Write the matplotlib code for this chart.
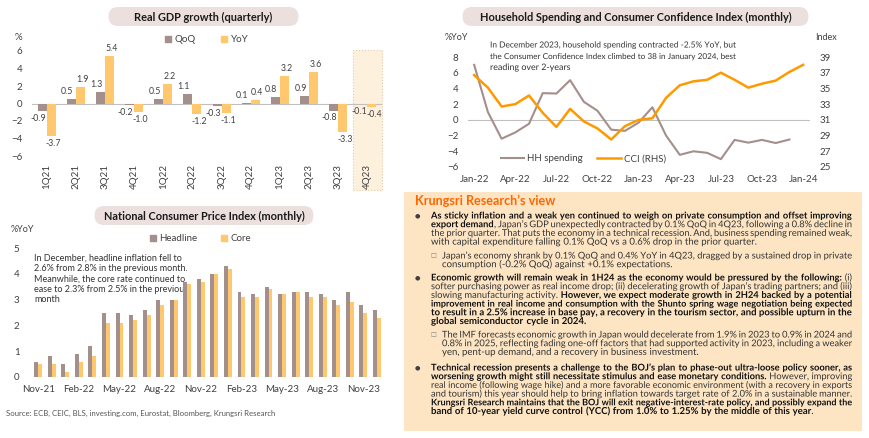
import matplotlib
matplotlib.use('Agg')
import matplotlib.pyplot as plt
import matplotlib.patheffects as pe
from matplotlib.patches import FancyBboxPatch, Rectangle, Patch
from matplotlib.lines import Line2D
import numpy as np

plt.rcParams['font.family'] = ['Lato', 'DejaVu Sans']

W, H = 870, 438

# ---- Real GDP growth (quarterly) ----
gdp_quarters = ['1Q21', '2Q21', '3Q21', '4Q21', '1Q22', '2Q22', '3Q22', '4Q22',
                '1Q23', '2Q23', '3Q23', '4Q23']
gdp_qoq = [-0.9, 0.5, 1.3, -0.2, 0.5, 1.1, -0.3, 0.1, 0.8, 0.9, -0.8, -0.1]
gdp_yoy = [-3.7, 1.9, 5.4, -1.0, 2.2, -1.2, -1.1, 0.4, 3.2, 3.6, -3.3, -0.4]

# ---- Household spending (Jan-22..Dec-23) and CCI (Jan-22..Jan-24) ----
hh_spending = [7.0, 1.0, -2.4, -1.6, -0.5, 3.4, 3.35, 5.05, 2.3, 1.15, -1.25, -1.4,
               -0.35, 1.6, -2.0, -4.45, -4.0, -4.2, -5.0, -2.55, -2.9, -2.55, -2.95, -2.5]
cci = [36.7, 35.1, 32.7, 33.0, 34.1, 31.9, 30.1, 32.4, 30.8, 29.9, 28.5, 30.2,
       31.0, 31.2, 33.8, 35.4, 35.9, 36.1, 37.0, 36.1, 35.1, 35.6, 36.0, 37.1, 38.0]
hh_tick_labels = ['Jan-22', 'Apr-22', 'Jul-22', 'Oct-22', 'Jan-23', 'Apr-23',
                  'Jul-23', 'Oct-23', 'Jan-24']

# ---- National CPI (Nov-21..Dec-23) ----
cpi_headline = [0.6, 0.8, 0.5, 0.9, 1.2, 2.5, 2.5, 2.4, 2.6, 3.0, 3.0, 3.7, 3.8,
                4.0, 4.3, 3.3, 3.2, 3.5, 3.2, 3.3, 3.3, 3.2, 3.0, 3.3, 2.8, 2.6]
cpi_core = [0.5, 0.5, 0.2, 0.6, 0.8, 2.1, 2.1, 2.2, 2.4, 2.8, 3.0, 3.6, 3.7,
            4.0, 4.2, 3.1, 3.1, 3.4, 3.2, 3.3, 3.1, 3.1, 2.8, 2.9, 2.5, 2.3]
cpi_tick_labels = ['Nov-21', 'Feb-22', 'May-22', 'Aug-22', 'Nov-22', 'Feb-23',
                   'May-23', 'Aug-23', 'Nov-23']

C_BROWN = '#a38f8b'
C_YEL = '#ffc76e'
C_ORANGE = '#ff9900'
C_PILL = '#ece0de'
C_TXT = '#404040'
C_GRID = '#c0c0c0'

fig = plt.figure(figsize=(8.7, 4.38), dpi=100)
bg = fig.add_axes([0, 0, 1, 1], zorder=0)
bg.set_xlim(0, W)
bg.set_ylim(H, 0)
bg.axis('off')
renderer = fig.canvas.get_renderer()
PE = [pe.Normal()]  # draw text as paths, so words share one baseline


def px_axes(x0, y0, x1, y1):
    ax = fig.add_axes([x0 / W, 1 - y1 / H, (x1 - x0) / W, (y1 - y0) / H], zorder=2)
    ax.patch.set_alpha(0)
    for s in ax.spines.values():
        s.set_visible(False)
    ax.tick_params(length=0, labelsize=7, labelcolor=C_TXT)
    return ax


def pill(x0, y0, x1, y1, title):
    r = (y1 - y0) / 2
    bg.add_patch(FancyBboxPatch((x0 + r, y0), x1 - x0 - 2 * r, y1 - y0,
                                boxstyle=f'round,pad=0,rounding_size={r}',
                                fc=C_PILL, ec='none'))
    bg.text((x0 + x1) / 2, (y0 + y1) / 2 + 0.5, title, ha='center', va='center',
            fontsize=7.9, fontweight='bold', color='#1a1a1a')


def text_w(s, size, bold):
    t = bg.text(0, 0, s, fontsize=size, fontweight='bold' if bold else 'normal')
    w = t.get_window_extent(renderer).width
    t.remove()
    return w


def draw_line(segs, x0, x1, y, size=6.0, justify=True, color='#333333',
              bold_color='#111111'):
    # split into words, each word may hold bold and normal pieces
    words = [[]]
    for txt, bold in segs:
        parts = txt.split(' ')
        for k, p in enumerate(parts):
            if k > 0:
                words.append([])
            if p:
                words[-1].append((p, bold))
    words = [w for w in words if w]
    while True:
        widths = [[text_w(p, size, b) for p, b in w] for w in words]
        tot = sum(sum(w) for w in widths)
        sp = text_w('a a', size, False) - text_w('aa', size, False)
        if tot + 0.8 * sp * (len(words) - 1) <= (x1 - x0) or size < 4:
            break
        size *= 0.97
    if justify and len(words) > 1:
        gap = ((x1 - x0) - tot) / (len(words) - 1)
    else:
        gap = sp
    x = x0
    for w, ws in zip(words, widths):
        for (p, b), pw in zip(w, ws):
            bg.text(x, y + 2.5, p, fontsize=size, va='baseline', ha='left',
                    fontweight='bold' if b else 'normal',
                    color=bold_color if b else color, path_effects=PE)
            x += pw
        x += gap


# =============== GDP chart ===============
pill(99, 7, 308, 26, 'Real GDP growth (quarterly)')
ax1 = px_axes(32, 51, 382, 156)
xg = np.arange(len(gdp_quarters))
bw = 0.31
ax1.axvspan(10.5, 11.5, ymin=-0.325, ymax=1.01, clip_on=False,
            fc='#fdf1de', ec='#e6c9a3', ls=':', lw=0.8, zorder=0)
ax1.bar(xg - bw / 2, gdp_qoq, bw, color=C_BROWN, zorder=2, label='QoQ')
ax1.bar(xg + bw / 2, gdp_yoy, bw, color=C_YEL, zorder=2, label='YoY')
ax1.axhline(0, color=C_GRID, lw=0.8, zorder=1)
for xs, vals in ((xg - bw / 2 - 0.14, gdp_qoq), (xg + bw / 2 + 0.07, gdp_yoy)):
    for xi, v in zip(xs, vals):
        ax1.annotate(f'{v:.1f}', (xi, v), xytext=(0, 2 if v >= 0 else -2),
                     textcoords='offset points', ha='center',
                     va='bottom' if v >= 0 else 'top', fontsize=6.3,
                     color=C_TXT, annotation_clip=False)
ax1.set_xlim(-0.5, 11.5)
ax1.set_ylim(-6, 6)
ax1.set_yticks([-6, -4, -2, 0, 2, 4, 6])
ax1.set_xticks(xg)
ax1.set_xticklabels(gdp_quarters, rotation=90)
ax1.tick_params(axis='y', pad=7)
ax1.tick_params(axis='x', pad=6)
bg.text(18, 37, '%', fontsize=7, color=C_TXT, ha='center', va='center')
ax1.legend(handles=[Patch(color=C_BROWN, label='QoQ'), Patch(color=C_YEL, label='YoY')],
           ncol=2, loc='center', bbox_to_anchor=(0.5, 1.105), frameon=False,
           fontsize=7, handlelength=0.6, handleheight=0.6, handletextpad=0.4,
           columnspacing=2.6, labelcolor=C_TXT)

# =============== Household spending / CCI ===============
pill(453, 7, 818, 26, 'Household Spending and Consumer Confidence Index (monthly)')
ax2 = px_axes(468, 57, 810, 167)
ax2.plot(np.arange(len(hh_spending)), hh_spending, color=C_BROWN, lw=1.5)
ax2.axhline(0, color=C_GRID, lw=0.8, zorder=0)
ax2.set_xlim(-0.45, 24.5)
ax2.set_ylim(-6, 8)
ax2.set_yticks(range(-6, 9, 2))
ax2.set_xticks(range(0, 25, 3))
ax2.set_xticklabels(hh_tick_labels)
ax2.tick_params(axis='y', pad=7)
ax2.tick_params(axis='x', pad=6)
ax2b = ax2.twinx()
for s in ax2b.spines.values():
    s.set_visible(False)
ax2b.plot(np.arange(len(cci)), cci, color=C_ORANGE, lw=1.8)
ax2b.set_ylim(25, 39)
ax2b.set_yticks(range(25, 40, 2))
ax2b.tick_params(length=0, labelsize=7, labelcolor=C_TXT, pad=7)
bg.text(445, 38, '%YoY', fontsize=6.5, color=C_TXT, va='center')
bg.text(815, 38, 'Index', fontsize=6.5, color=C_TXT, va='center')
ax2.legend(handles=[Line2D([], [], color=C_BROWN, lw=1.5, label='HH spending'),
                    Line2D([], [], color=C_ORANGE, lw=1.8, label='CCI (RHS)')],
           ncol=2, loc='center', bbox_to_anchor=(0.337, 0.073), frameon=False,
           fontsize=7, handlelength=2.4, handletextpad=0.3, columnspacing=1.5,
           labelcolor=C_TXT)
hh_note = ['In December 2023, household spending contracted -2.5% YoY, but',
           'the Consumer Confidence Index climbed to 38 in January 2024, best',
           'reading over 2-years']
for i, (ln, yy) in enumerate(zip(hh_note, [45, 56.5, 67.5])):
    draw_line([(ln, False)], 490, 736, yy, size=6.4, justify=i < 2, color='#333333')

# =============== CPI chart ===============
pill(85, 206, 323, 225, 'National Consumer Price Index (monthly)')
ax3 = px_axes(32, 248, 383, 377)
xc = np.arange(len(cpi_headline))
cw = 0.29
ax3.bar(xc - cw / 2, cpi_headline, cw, color=C_BROWN)
ax3.bar(xc + cw / 2, cpi_core, cw, color=C_YEL)
ax3.axhline(0, color=C_GRID, lw=0.8)
ax3.set_xlim(-0.46, 25.45)
ax3.set_ylim(0, 5)
ax3.set_yticks(range(0, 6))
ax3.set_xticks(range(0, 26, 3))
ax3.set_xticklabels(cpi_tick_labels)
ax3.tick_params(axis='y', pad=9)
ax3.tick_params(axis='x', pad=6)
bg.text(11, 230, '%YoY', fontsize=6.5, color=C_TXT, va='center')
ax3.legend(handles=[Patch(color=C_BROWN, label='Headline'), Patch(color=C_YEL, label='Core')],
           ncol=2, loc='center', bbox_to_anchor=(0.48, 1.07), frameon=False,
           fontsize=7, handlelength=0.6, handleheight=0.6, handletextpad=0.4,
           columnspacing=2.4, labelcolor=C_TXT)
cpi_note = ['In December, headline inflation fell to',
            '2.6% from 2.8% in the previous month.',
            'Meanwhile, the core rate continued to',
            'ease to 2.3% from 2.5% in the previous',
            'month']
for ln, yy in zip(cpi_note, [258, 268.5, 279, 289.5, 300]):
    bg.text(34, yy + 2.5, ln, fontsize=6.5, va='baseline', color='#333333')

bg.text(6, 413, 'Source: ECB, CEIC, BLS, investing.com, Eurostat, Bloomberg, Krungsri Research',
        fontsize=5.6, color='#555555', va='center')

# =============== Krungsri Research's view ===============
bg.add_patch(Rectangle((404, 192), 458, 239, fc='#fde5c4', ec='none', zorder=0))
bg.text(415, 202 + 3.0, 'Krungsri Research\u2019s view', fontsize=9.1, fontweight='bold',
        color='#ff6600', va='baseline')

B, N = True, False
XL, XR, XS = 431, 852, 442

bullets = [
    (216, [
        [('As sticky inflation and a weak yen continued to weigh on private consumption and offset improving', B)],
        [('export demand', B), (', Japan\u2019s GDP unexpectedly contracted by 0.1% QoQ in 4Q23, following a 0.8% decline in', N)],
        [('the prior quarter. That puts the economy in a technical recession. And, business spending remained weak,', N)],
        [('with capital expenditure falling 0.1% QoQ vs a 0.6% drop in the prior quarter.', N)],
    ], 256, [
        [('Japan\u2019s economy shrank by 0.1% QoQ and 0.4% YoY in 4Q23, dragged by a sustained drop in private', N)],
        [('consumption (-0.2% QoQ) against +0.1% expectations.', N)],
    ]),
    (278, [
        [('Economic growth will remain weak in 1H24 as the economy would be pressured by the following:', B), (' (i)', N)],
        [('softer purchasing power as real income drop; (ii) decelerating growth of Japan\u2019s trading partners; and (iii)', N)],
        [('slowing manufacturing activity. ', N), ('However, we expect moderate growth in 2H24 backed by a potential', B)],
        [('improvement in real income and consumption with the Shunto spring wage negotiation being expected', B)],
        [('to result in a 2.5% increase in base pay, a recovery in the tourism sector, and possible upturn in the', B)],
        [('global semiconductor cycle in 2024.', B)],
    ], 335, [
        [('The IMF forecasts economic growth in Japan would decelerate from 1.9% in 2023 to 0.9% in 2024 and', N)],
        [('0.8% in 2025, reflecting fading one-off factors that had supported activity in 2023, including a weaker', N)],
        [('yen, pent-up demand, and a recovery in business investment.', N)],
    ]),
    (368, [
        [('Technical recession presents a challenge to the BOJ\u2019s plan to phase-out ultra-loose policy sooner, as', B)],
        [('worsening growth might still necessitate stimulus and ease monetary conditions.', B), (' However, improving', N)],
        [('real income (following wage hike) and a more favorable economic environment (with a recovery in exports', N)],
        [('and tourism) this year should help to bring inflation towards target rate of 2.0% in a sustainable manner.', N)],
        [('Krungsri Research maintains that the BOJ will exit negative-interest-rate policy, and possibly expand the', B)],
        [('band of 10-year yield curve control (YCC) from 1.0% to 1.25% by the middle of this year', B), ('.', N)],
    ], None, []),
]

LS = 8.7
for y0, lines, ys, subs in bullets:
    bg.text(417, y0, '\u25cf', fontsize=4.5, color='#404040', ha='center', va='center',
            family='DejaVu Sans')
    for k, segs in enumerate(lines):
        draw_line(segs, XL, XR, y0 + k * LS, size=6.9, justify=k < len(lines) - 1)
    if ys is not None:
        bg.text(433, ys, '\u25a1', fontsize=4.5, color='#808080', ha='center', va='center',
                family='DejaVu Sans')
        for k, segs in enumerate(subs):
            draw_line(segs, XS, XR, ys + k * LS, size=6.9, justify=k < len(subs) - 1)

fig.savefig('out.png', dpi=100)
